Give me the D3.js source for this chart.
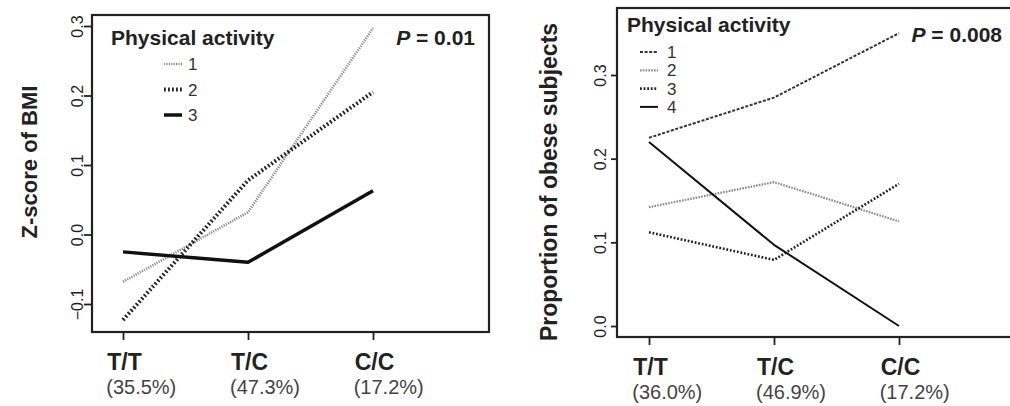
<!DOCTYPE html>
<html><head><meta charset="utf-8">
<script src="https://cdn.jsdelivr.net/npm/d3@7"></script>
<style>body{margin:0;background:#fff}svg{display:block}text{font-family:"Liberation Sans",Arial,sans-serif}</style>
</head><body><svg id="c" width="1010" height="406"></svg>
<script>
const genotypes = ["T/T","T/C","C/C"];
const leftPct = ["(35.5%)","(47.3%)","(17.2%)"];
const rightPct = ["(36.0%)","(46.9%)","(17.2%)"];
const leftTicks = [-0.1,0.0,0.1,0.2,0.3];
const rightTicks = [0.0,0.1,0.2,0.3];
const leftLevels = ["1","2","3"];
const rightLevels = ["1","2","3","4"];
const zAct1 = [-0.068, 0.032, 0.297];
const zAct2 = [-0.123, 0.078, 0.205];
const zAct3 = [-0.025, -0.040, 0.063];
const pAct1 = [0.225, 0.273, 0.350];
const pAct2 = [0.142, 0.172, 0.125];
const pAct3 = [0.112, 0.079, 0.170];
const pAct4 = [0.220, 0.097, 0.000];

const svg = d3.select("#c");
const leftStyles = [
  {stroke:"#8a8a8a", w:2.6, dash:"1.2,1.2"},
  {stroke:"#222", w:4, dash:"1.8,2.2"},
  {stroke:"#111", w:3.5, dash:null}
];
const rightStyles = [
  {stroke:"#333", w:2, dash:"3,1.6"},
  {stroke:"#888", w:2.2, dash:"1.6,1.2"},
  {stroke:"#222", w:2.6, dash:"1.8,1.8"},
  {stroke:"#111", w:2, dash:null}
];

function panel(cfg){
  const g = svg.append("g");
  const x = d3.scalePoint().domain(genotypes).range(cfg.xr);
  const y = d3.scaleLinear().domain(cfg.yd).range(cfg.yr);
  g.append("rect").attr("x",cfg.box[0]).attr("y",cfg.box[1])
   .attr("width",cfg.box[2]-cfg.box[0]).attr("height",cfg.box[3]-cfg.box[1])
   .attr("fill","none").attr("stroke","#222").attr("stroke-width",2.2);
  const ya = g.append("g").attr("transform",`translate(${cfg.box[0]},0)`)
    .call(d3.axisLeft(y).tickValues(cfg.ticks).tickFormat(d3.format(".1f")).tickSize(cfg.tickLen).tickSizeOuter(0));
  ya.select(".domain").remove();
  ya.selectAll(".tick line").attr("stroke","#222").attr("stroke-width",1.8);
  ya.selectAll(".tick text").attr("transform","rotate(-90)").attr("x",0).attr("y",cfg.tickLabY)
    .attr("dy","0").attr("text-anchor","middle").attr("font-size",16).attr("fill","#222");
  const xa = g.append("g").attr("transform",`translate(0,${cfg.box[3]})`)
    .call(d3.axisBottom(x).tickSize(8).tickFormat(""));
  xa.select(".domain").remove();
  xa.selectAll(".tick line").attr("stroke","#222").attr("stroke-width",1.8);
  genotypes.forEach((gt,i)=>{
    const cx = x(gt) + 1.5;
    const t = g.append("text").attr("x",cx).attr("y",cfg.box[3]+38).attr("text-anchor","middle")
     .attr("font-size",23).attr("font-weight","bold").attr("fill","#222").text(gt);
    const w = t.node().getComputedTextLength();
    g.append("text").attr("x",cx - w/2 - 1).attr("y",cfg.box[3]+62).attr("text-anchor","start")
     .attr("font-size",20).attr("fill","#444").text(cfg.pct[i]);
  });
  g.append("text").attr("transform",`translate(${cfg.ylabX},${cfg.ylabY}) rotate(-90)`)
   .attr("text-anchor","middle").attr("font-size",cfg.ylabSize).attr("font-weight","bold").attr("fill","#222").text(cfg.ylab);
  const line = d3.line().x((d,i)=>x(genotypes[i])).y(d=>y(d));
  cfg.series.forEach((s,k)=>{
    const st = cfg.styles[k];
    g.append("path").attr("d",line(s)).attr("fill","none").attr("stroke",st.stroke)
     .attr("stroke-width",st.w).attr("stroke-dasharray",st.dash).attr("stroke-linejoin","round");
  });
  g.append("text").attr("x",cfg.leg.x).attr("y",cfg.leg.y).attr("font-size",21)
   .attr("font-weight","bold").attr("fill","#222").text("Physical activity");
  cfg.levels.forEach((lv,k)=>{
    const st = cfg.styles[k];
    const yy = cfg.leg.y0 + k*cfg.leg.dy;
    g.append("line").attr("x1",cfg.leg.lx1).attr("x2",cfg.leg.lx2).attr("y1",yy).attr("y2",yy)
     .attr("stroke",st.stroke).attr("stroke-width",st.w).attr("stroke-dasharray",st.dash);
    g.append("text").attr("x",cfg.leg.tx).attr("y",yy).attr("dy","0.36em").attr("font-size",cfg.leg.size)
     .attr("fill","#333").text(lv);
  });
  const pt = g.append("text").attr("x",cfg.p.x).attr("y",cfg.p.y).attr("text-anchor","end")
   .attr("font-size",21).attr("font-weight","bold").attr("fill","#222");
  pt.append("tspan").attr("font-style","italic").text("P");
  pt.append("tspan").text(" = " + cfg.p.v);
}

panel({
  xr:[123,373], yd:[-0.1,0.3], yr:[304,26], box:[92,15,489,332], ticks:leftTicks, pct:leftPct,
  tickLen:8, tickLabY:-9,
  ylab:"Z-score of BMI", ylabX:37, ylabY:162, ylabSize:22,
  series:[zAct1,zAct2,zAct3], styles:leftStyles, levels:leftLevels,
  leg:{x:111,y:45,y0:64,dy:25.5,lx1:164,lx2:182,tx:188,size:17},
  p:{x:475,y:45,v:"0.01"}
});
panel({
  xr:[649,899], yd:[0,0.3], yr:[326,75], box:[617,8,1013,337], ticks:rightTicks, pct:rightPct,
  tickLen:6, tickLabY:-11,
  ylab:"Proportion of obese subjects", ylabX:557, ylabY:182, ylabSize:23,
  series:[pAct1,pAct2,pAct3,pAct4], styles:rightStyles, levels:rightLevels,
  leg:{x:627,y:32,y0:52,dy:18.3,lx1:640,lx2:658,tx:667,size:17},
  p:{x:1002,y:42,v:"0.008"}
});
</script></body></html>
